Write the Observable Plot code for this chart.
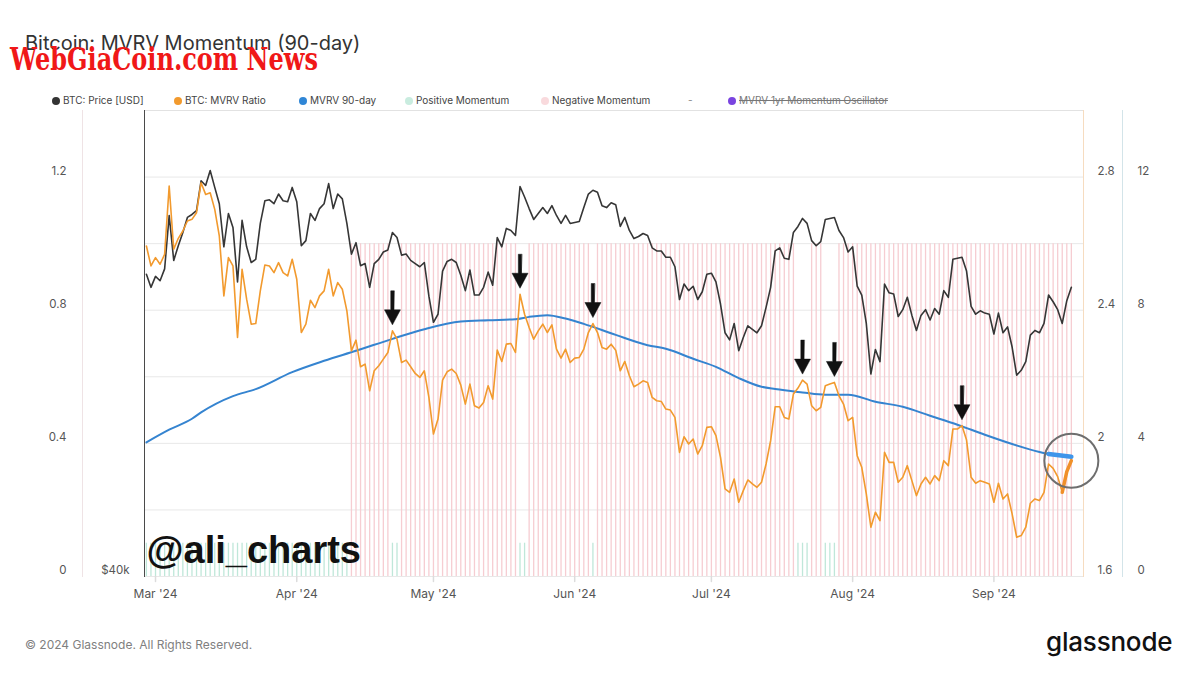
<!DOCTYPE html>
<html>
<head>
<meta charset="utf-8">
<script src="https://cdn.jsdelivr.net/npm/d3@7"></script>
<script src="https://cdn.jsdelivr.net/npm/@observablehq/plot@0.6"></script>
<style>
  body { margin: 0; background: #fff; font-family: Inter, "Noto Sans", sans-serif; }
  #wrap { position: relative; width: 1199px; height: 675px; overflow: hidden; background: #fff; }
  #title { position: absolute; left: 25px; top: 33px; font-size: 20px; line-height: 20px; color: #333; white-space: nowrap; }
  #wm { position: absolute; left: 10px; top: 43px; font-family: "DejaVu Serif", serif; font-weight: bold; font-size: 32px; line-height: 32px; color: #f01818; white-space: nowrap; transform-origin: 0 0; z-index: 3; }
  .lg { position: absolute; top: 94px; font-size: 10px; line-height: 12px; color: #444; white-space: nowrap; }
  .lg i { display: inline-block; width: 8px; height: 8px; border-radius: 50%; margin-right: 3px; vertical-align: -0.5px; }
  #chart { position: absolute; left: 0; top: 108px; }
  #foot { position: absolute; left: 25px; top: 638px; font-size: 12px; line-height: 14px; color: #808080; white-space: nowrap; }
  #brand { position: absolute; left: 1046px; top: 629px; font-size: 26px; line-height: 26px; font-weight: 500; color: #111; letter-spacing: -0.2px; white-space: nowrap; }
</style>
</head>
<body>
<div id="wrap">
  <div id="title">Bitcoin: MVRV Momentum (90-day)</div>
  <div id="wm">WebGiaCoin.com News</div>
  <div class="lg" style="left:52px"><i style="background:#333"></i>BTC: Price [USD]</div>
  <div class="lg" style="left:174px"><i style="background:#f29a2e"></i>BTC: MVRV Ratio</div>
  <div class="lg" style="left:299px"><i style="background:#2f86d6"></i>MVRV 90-day</div>
  <div class="lg" style="left:405px"><i style="background:#c9ecdf"></i>Positive Momentum</div>
  <div class="lg" style="left:541px"><i style="background:#f9dadd"></i>Negative Momentum</div>
  <div class="lg" style="left:688px; color:#888">-</div>
  <div class="lg" style="left:728px; color:#777; text-decoration: line-through;"><i style="background:#7a44e0"></i>MVRV 1yr Momentum Oscillator</div>
  <div id="chart"></div>
  <div id="foot">© 2024 Glassnode. All Rights Reserved.</div>
  <div id="brand">glassnode</div>
</div>
<script>
// ---------- data ----------
const startDay = "2024-02-28"; // first daily observation

const priceUSD = [
  62600, 61400, 62400, 62000, 63100, 68300, 63900, 65300, 66600, 68100,
  68400, 68800, 71900, 71400, 73000, 71200, 69500, 65200, 68500, 67100,
  61900, 67800, 65200, 63700, 64000, 67500, 69800, 69900, 69500, 70500,
  69800, 69700, 71200, 69700, 65300, 65800, 68500, 67800, 69000, 69500,
  71600, 69000, 70500, 70000, 67500, 64500, 65600, 63400, 63600, 61400,
  63600, 64000, 64700, 64900, 66600, 66100, 64400, 64500, 63900, 63600,
  63300, 63700, 60600, 58300, 59000, 62900, 63800, 64000, 63700, 62500,
  61100, 63000, 60700, 60700, 61400, 62800, 61600, 66100, 65200, 67000,
  66800, 66300, 71300, 70200, 69000, 67900, 68500, 69100, 68500, 69300,
  68300, 67500, 68300, 67500, 67600, 67700, 69100, 70500, 70900, 70700,
  69300, 69100, 69600, 69400, 67200, 68100, 66800, 66000, 66200, 66500,
  66300, 65100, 64800, 64800, 64200, 64200, 63300, 60300, 61700, 61100,
  61500, 60300, 61000, 62600, 62700, 61900, 59900, 57400, 56800, 58200,
  55900, 57000, 58000, 57700, 57400, 58000, 59600, 61400, 64800, 65100,
  64100, 64000, 66600, 67200, 68000, 67500, 65800, 65300, 65700, 67900,
  68000, 68100, 66800, 66100, 64700, 65200, 61500, 60700, 58200, 54000,
  56000, 55000, 61700, 60900, 60800, 58800, 59400, 60500, 58900, 57600,
  58900, 59400, 58500, 59500, 59000, 61100, 60500, 64000, 64100, 64200,
  62900, 59700, 59000, 59300, 59100, 59000, 57300, 59100, 57400, 57900,
  56200, 53900, 54300, 55000, 57200, 57600, 57400, 58200, 60700, 60100,
  59400, 58200, 60200, 61400
];

const mvrvRatio = [
  2.593, 2.533, 2.558, 2.538, 2.568, 2.773, 2.583, 2.616, 2.638, 2.668,
  2.673, 2.693, 2.783, 2.748, 2.753, 2.703, 2.623, 2.443, 2.558, 2.533,
  2.318, 2.523, 2.433, 2.358, 2.360, 2.458, 2.536, 2.533, 2.513, 2.543,
  2.513, 2.503, 2.553, 2.493, 2.333, 2.358, 2.430, 2.408, 2.443, 2.458,
  2.523, 2.443, 2.483, 2.463, 2.398, 2.278, 2.310, 2.230, 2.238, 2.158,
  2.218, 2.233, 2.253, 2.273, 2.338, 2.313, 2.243, 2.250, 2.230, 2.210,
  2.198, 2.218, 2.138, 2.028, 2.073, 2.190, 2.215, 2.223, 2.210, 2.175,
  2.118, 2.178, 2.113, 2.106, 2.123, 2.173, 2.133, 2.280, 2.246, 2.298,
  2.300, 2.273, 2.448, 2.388, 2.348, 2.313, 2.338, 2.358, 2.333, 2.356,
  2.283, 2.256, 2.283, 2.243, 2.256, 2.258, 2.283, 2.333, 2.360, 2.333,
  2.288, 2.283, 2.298, 2.280, 2.218, 2.246, 2.203, 2.170, 2.178, 2.188,
  2.183, 2.138, 2.128, 2.126, 2.103, 2.100, 2.078, 1.973, 2.020, 1.998,
  2.013, 1.968, 1.993, 2.048, 2.050, 2.023, 1.958, 1.863, 1.853, 1.893,
  1.823, 1.858, 1.890, 1.878, 1.868, 1.883, 1.938, 2.008, 2.110, 2.110,
  2.078, 2.073, 2.148, 2.166, 2.190, 2.178, 2.113, 2.098, 2.108, 2.173,
  2.178, 2.183, 2.143, 2.118, 2.068, 2.078, 1.963, 1.928, 1.848, 1.748,
  1.793, 1.768, 1.973, 1.943, 1.943, 1.883, 1.898, 1.933, 1.888, 1.843,
  1.878, 1.898, 1.878, 1.903, 1.888, 1.948, 1.933, 2.043, 2.043, 2.053,
  2.010, 1.898, 1.880, 1.888, 1.883, 1.878, 1.823, 1.880, 1.833, 1.848,
  1.788, 1.718, 1.723, 1.748, 1.820, 1.833, 1.828, 1.853, 1.938, 1.925,
  1.900, 1.853, 1.915, 1.948
];

const smaDates = ["2024-02-28","2024-03-04","2024-03-09","2024-03-11","2024-03-18","2024-03-23","2024-03-31",
  "2024-04-07","2024-04-14","2024-04-22","2024-04-29","2024-05-07","2024-05-13","2024-05-19","2024-05-22",
  "2024-05-26","2024-05-30","2024-06-03","2024-06-10","2024-06-17","2024-06-21","2024-06-27","2024-07-02",
  "2024-07-07","2024-07-12","2024-07-15","2024-07-21","2024-07-26","2024-07-31","2024-08-06","2024-08-12",
  "2024-08-18","2024-08-24","2024-08-30","2024-09-05","2024-09-11","2024-09-13","2024-09-18"];
const smaValues = [2.003, 2.041, 2.074, 2.093, 2.142, 2.163, 2.214, 2.248, 2.278, 2.314, 2.343, 2.366, 2.370,
  2.373, 2.380, 2.385, 2.375, 2.359, 2.326, 2.295, 2.284, 2.254, 2.230, 2.196, 2.170, 2.163, 2.153, 2.146,
  2.146, 2.125, 2.110, 2.083, 2.056, 2.026, 1.998, 1.974, 1.968, 1.960];

// days with positive momentum (MVRV above its 90-day mean); all other days negative
const positivePeriods = [["2024-02-28","2024-04-12"],["2024-04-22","2024-04-23"],["2024-05-20","2024-05-21"],
  ["2024-06-05","2024-06-05"],["2024-07-20","2024-07-22"],["2024-07-26","2024-07-28"]];
const negMomentumLevel = 1.0;   // bar height on the left axis
const posMomentumLevel = 0.1;

const arrowDates = ["2024-04-22","2024-05-20","2024-06-05","2024-07-21","2024-07-28","2024-08-25"];
const highlightSmaFrom = "2024-09-13";
const highlightRatioFrom = "2024-09-16";

const leftTicks = [0, 0.4, 0.8, 1.2];
const gridValues = [0, 0.2, 0.4, 0.6, 0.8, 1.0, 1.2];
const priceTicks = [40000];
const ratioTicks = [1.6, 2, 2.4, 2.8];
const oscTicks = [0, 4, 8, 12];
const monthTicks = ["2024-03-01","2024-04-01","2024-05-01","2024-06-01","2024-07-01","2024-08-01","2024-09-01"];
const monthLabels = ["Mar '24","Apr '24","May '24","Jun '24","Jul '24","Aug '24","Sep '24"];

// ---------- axis mappings onto the shared left scale ----------
const PRICE_UNITS_PER_DECADE = 4.668;
const priceY = p => PRICE_UNITS_PER_DECADE * Math.log10(p / priceTicks[0]);
const ratioY = r => r - ratioTicks[0];
const oscY = o => o / 10;
const utc = s => new Date(s + "T00:00:00Z");

const t0 = utc(startDay).getTime();
const rows = priceUSD.map((p, i) => ({date: new Date(t0 + i * 864e5), price: p, ratio: mvrvRatio[i]}));
const sma = smaDates.map((d, i) => ({date: utc(d), value: smaValues[i]}));
const isPos = d => positivePeriods.some(([a, b]) => d >= utc(a) && d <= utc(b));
const posRows = rows.filter(r => isPos(r.date));
const negRows = rows.filter(r => !isPos(r.date));
const arrowRows = arrowDates.map(s => rows.find(r => +r.date === +utc(s)));
const lastRow = rows[rows.length - 1];

const arrowShape = {
  draw(context, l) {
    const h = 15, w = 8, s = 1.7;
    context.moveTo(-s, 0);
    context.lineTo(s, 0);
    context.lineTo(s, -(l - h));
    context.lineTo(w, -(l - h));
    context.lineTo(0, -l);
    context.lineTo(-w, -(l - h));
    context.lineTo(-s, -(l - h));
    context.closePath();
  }
};
const tickShape = { draw(context, l) { context.moveTo(0, 0); context.lineTo(0, -l); } };

const chart = Plot.plot({
  width: 1199, height: 512,
  marginTop: 2, marginBottom: 44, marginLeft: 144, marginRight: 116,
  x: {type: "utc", domain: [new Date("2024-02-27T14:00:00Z"), new Date("2024-09-20T16:00:00Z")], axis: null},
  y: {domain: [0, 1.4], axis: null},
  style: {fontFamily: "Inter, 'Noto Sans', sans-serif", fontSize: "11.5px", color: "#555", background: "transparent", overflow: "visible"},
  marks: [
    Plot.ruleY(gridValues, {stroke: "#e8e8e8", strokeWidth: 1}),
    Plot.ruleX(negRows, {x: "date", y1: 0, y2: negMomentumLevel, stroke: "#f6cdd2", strokeWidth: 1.3}),
    Plot.ruleX(posRows, {x: "date", y1: 0, y2: posMomentumLevel, stroke: "#bfe7d9", strokeWidth: 1.3}),
    Plot.frame({anchor: "top", stroke: "#e2e2e2"}),
    Plot.frame({anchor: "left", stroke: "#4a4a4a"}),
    Plot.frame({anchor: "right", stroke: "#f6dcc0"}),
    Plot.frame({anchor: "left", stroke: "#efe3e5", dx: -62}),
    Plot.frame({anchor: "right", stroke: "#d3e4e9", dx: 39}),
    Plot.line(rows, {x: "date", y: d => priceY(d.price), stroke: "#363636", strokeWidth: 1.6}),
    Plot.line(sma, {x: "date", y: d => ratioY(d.value), curve: "monotone-x", stroke: "#3584d0", strokeWidth: 2}),
    Plot.line(rows, {x: "date", y: d => ratioY(d.ratio), stroke: "#f29a2e", strokeWidth: 1.6}),
    Plot.line(sma.filter(d => d.date >= utc(highlightSmaFrom)), {x: "date", y: d => ratioY(d.value), stroke: "#3f95ea", strokeWidth: 4.5}),
    Plot.line(rows.filter(d => d.date >= utc(highlightRatioFrom)), {x: "date", y: d => ratioY(d.ratio), stroke: "#f0902a", strokeWidth: 3.5}),
    Plot.dot([lastRow], {x: "date", y: d => ratioY(d.ratio), r: 27, stroke: "#6e6e6e", strokeWidth: 2, fill: "none"}),
    Plot.vector(arrowRows, {x: "date", y: d => ratioY(d.ratio), length: 34, rotate: 180, anchor: "end", dy: -6,
      shape: arrowShape, fill: "#111", stroke: "#111", strokeWidth: 0.5}),
    // axes
    Plot.text(leftTicks, {y: d => d, frameAnchor: "left", dx: -78, dy: -6, textAnchor: "end", text: d => String(d), fill: "#555"}),
    Plot.text(priceTicks, {y: priceY, frameAnchor: "left", dx: -15, dy: -6, textAnchor: "end", text: d => "$" + d / 1000 + "k", fill: "#555"}),
    Plot.text(ratioTicks, {y: ratioY, frameAnchor: "right", dx: 14, dy: -6, textAnchor: "start", text: d => String(d), fill: "#555"}),
    Plot.text(oscTicks, {y: oscY, frameAnchor: "right", dx: 54, dy: -6, textAnchor: "start", text: d => String(d), fill: "#555"}),
    Plot.vector(monthTicks, {x: utc, frameAnchor: "bottom", length: 5, rotate: 180, anchor: "start", shape: tickShape, stroke: "#dcdcdc"}),
    Plot.text(monthTicks, {x: utc, frameAnchor: "bottom", dy: 21, text: (d, i) => monthLabels[i], fill: "#555", fontSize: 12}),
    // watermark inside the plot
    Plot.text(["@ali_charts"], {frameAnchor: "bottom-left", dx: 2, dy: -14, textAnchor: "start", lineAnchor: "bottom",
      fontSize: 38, fontWeight: "bold", fontFamily: "'Liberation Sans', Arial, sans-serif", fill: "#111"})
  ]
});
document.getElementById("chart").appendChild(chart);

const wm = document.getElementById("wm");
const ww = wm.getBoundingClientRect().width;
if (ww > 0) wm.style.transform = `scaleX(${308 / ww})`;
</script>
</body>
</html>
